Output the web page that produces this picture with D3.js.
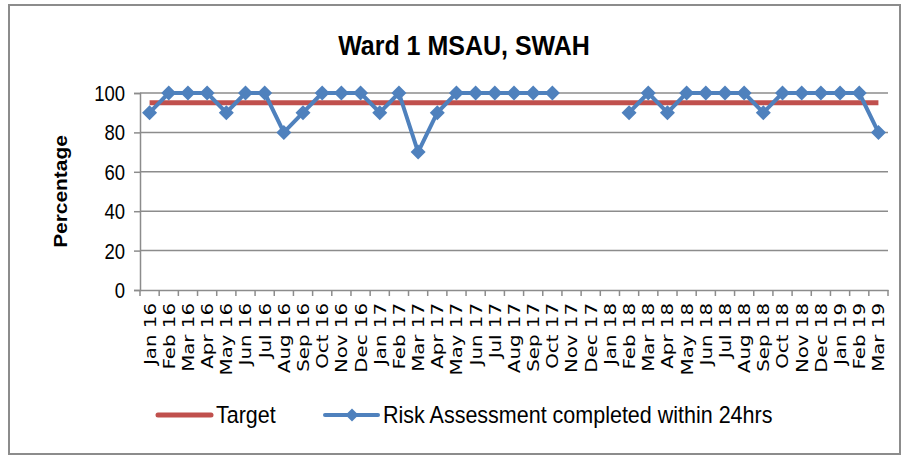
<!DOCTYPE html>
<html>
<head>
<meta charset="utf-8">
<script src="https://cdn.jsdelivr.net/npm/d3@7"></script>
<style>
  body { margin: 0; background: #fff; }
  text { font-family: "Liberation Sans", Arial, sans-serif; fill: #000; }
</style>
</head>
<body>
<div id="chart"></div>
<script>
var months = ["Jan 16", "Feb 16", "Mar 16", "Apr 16", "May 16", "Jun 16", "Jul 16", "Aug 16", "Sep 16", "Oct 16", "Nov 16", "Dec 16",
  "Jan 17", "Feb 17", "Mar 17", "Apr 17", "May 17", "Jun 17", "Jul 17", "Aug 17", "Sep 17", "Oct 17", "Nov 17", "Dec 17",
  "Jan 18", "Feb 18", "Mar 18", "Apr 18", "May 18", "Jun 18", "Jul 18", "Aug 18", "Sep 18", "Oct 18", "Nov 18", "Dec 18",
  "Jan 19", "Feb 19", "Mar 19"];
var riskValues = [90, 100, 100, 100, 90, 100, 100, 80, 90, 100, 100, 100,
  90, 100, 70, 90, 100, 100, 100, 100, 100, 100, null, null,
  null, 90, 100, 90, 100, 100, 100, 100, 90, 100, 100, 100,
  100, 100, 80];
var targetValue = 95;
var yTicks = [0, 20, 40, 60, 80, 100];

var chart = {
  width: 907,
  height: 457,
  top: 93,
  right: 19,
  bottom: 167,
  left: 140,
}
var sy = 1.15; // picture is a bit stretched vertically
var blue = "#4F81BD", red = "#C0504D", grey = "#8C8C8C";

var svg = d3.select("#chart")
  .append("svg")
  .attr("width", chart.width)
  .attr("height", chart.height);

/* outer frame */
svg.append("rect")
  .attr("x", 9).attr("y", 5)
  .attr("width", 891).attr("height", 449)
  .style("fill", "none").style("stroke", grey).style("stroke-width", 2);

/* title */
svg.append("text")
  .attr("transform", `translate(464, 55) scale(1, 1.1)`)
  .attr("text-anchor", "middle")
  .style("font-size", "25px").style("font-weight", "bold")
  .text("Ward 1 MSAU, SWAH");

var x = d3.scaleBand()
  .range([chart.left, chart.width - chart.right])
  .domain(months);
var y = d3.scaleLinear()
  .range([chart.height - chart.bottom, chart.top])
  .domain([0, 100]);

/* grid */
svg.append("g")
  .selectAll("line")
  .data(yTicks.filter((d) => d > 0))
  .enter()
  .append("line")
  .attr("x1", chart.left).attr("x2", chart.width - chart.right)
  .attr("y1", (d) => y(d)).attr("y2", (d) => y(d))
  .style("stroke", grey).style("stroke-width", 1.5);

/* y axis */
var yAxis = svg.append("g")
  .attr("transform", `translate(${chart.left}, 0)`)
  .call(d3.axisLeft(y).tickValues(yTicks).tickSize(6).tickPadding(9));
yAxis.select(".domain").style("stroke", grey).style("stroke-width", 1.5);
yAxis.selectAll(".tick line").style("stroke", grey).style("stroke-width", 1.5);
yAxis.selectAll(".tick text")
  .attr("font-family", null)
  .style("font-size", "18.5px")
  .attr("transform", `scale(1, ${sy})`)
  .attr("dy", "0.35em");

/* x axis */
var xAxis = svg.append("g")
  .attr("transform", `translate(0, ${chart.height - chart.bottom})`)
  .call(d3.axisBottom(x).tickSize(0).tickFormat(""));
xAxis.select(".domain").style("stroke", grey).style("stroke-width", 1.5);
xAxis.selectAll(".tick").remove();

svg.append("g")
  .selectAll("line")
  .data(months.concat(["end"]))
  .enter()
  .append("line")
  .attr("x1", (d, i) => chart.left + i * x.step())
  .attr("x2", (d, i) => chart.left + i * x.step())
  .attr("y1", chart.height - chart.bottom)
  .attr("y2", chart.height - chart.bottom + 6)
  .style("stroke", grey).style("stroke-width", 1.5);

svg.append("g")
  .selectAll("text")
  .data(months)
  .enter()
  .append("text")
  .attr("transform", (d) => `translate(${x(d) + x.bandwidth() / 2}, ${chart.height - chart.bottom + 13}) rotate(-90) scale(1.2, 1)`)
  .attr("text-anchor", "end")
  .attr("dy", "0.36em")
  .style("font-family", "'DejaVu Sans', sans-serif")
  .style("font-size", "16.5px")
  .text((d) => d);

/* y title */
svg.append("text")
  .attr("transform", `translate(67, ${(y(0) + y(100)) / 2}) rotate(-90) scale(1.1, 1)`)
  .attr("text-anchor", "middle")
  .style("font-size", "19px").style("font-weight", "bold")
  .text("Percentage");

var cx = (d, i) => x(months[i]) + x.bandwidth() / 2;

/* target line */
svg.append("line")
  .attr("x1", x(months[0]) + x.bandwidth() / 2)
  .attr("x2", x(months[months.length - 1]) + x.bandwidth() / 2)
  .attr("y1", y(targetValue)).attr("y2", y(targetValue))
  .style("stroke", red).style("stroke-width", 5);

/* risk line */
var line = d3.line()
  .defined((d) => d !== null)
  .x(cx)
  .y((d) => y(d));
svg.append("path")
  .datum(riskValues)
  .attr("d", line)
  .style("fill", "none").style("stroke", blue).style("stroke-width", 4)
  .style("stroke-linejoin", "round");

var diamond = "M0,-7.5L7.5,0L0,7.5L-7.5,0Z";
svg.append("g")
  .selectAll("path")
  .data(riskValues.map((v, i) => ({ v: v, i: i })).filter((d) => d.v !== null))
  .enter()
  .append("path")
  .attr("d", diamond)
  .attr("transform", (d) => `translate(${cx(d.v, d.i)}, ${y(d.v)})`)
  .style("fill", blue);

/* legend */
var ly = 415;
svg.append("line")
  .attr("x1", 158).attr("x2", 211).attr("y1", ly).attr("y2", ly)
  .style("stroke", red).style("stroke-width", 5).style("stroke-linecap", "round");
svg.append("text")
  .attr("transform", `translate(216, ${ly}) scale(1, 1.1)`)
  .attr("dy", "0.35em")
  .style("font-size", "21.5px")
  .text("Target");
svg.append("line")
  .attr("x1", 325).attr("x2", 378).attr("y1", ly).attr("y2", ly)
  .style("stroke", blue).style("stroke-width", 4).style("stroke-linecap", "round");
svg.append("path")
  .attr("d", "M0,-6.5L6.5,0L0,6.5L-6.5,0Z")
  .attr("transform", `translate(352, ${ly})`)
  .style("fill", blue);
svg.append("text")
  .attr("transform", `translate(383, ${ly}) scale(1, 1.1)`)
  .attr("dy", "0.35em")
  .style("font-size", "21.5px")
  .text("Risk Assessment completed within 24hrs");
</script>
</body>
</html>
